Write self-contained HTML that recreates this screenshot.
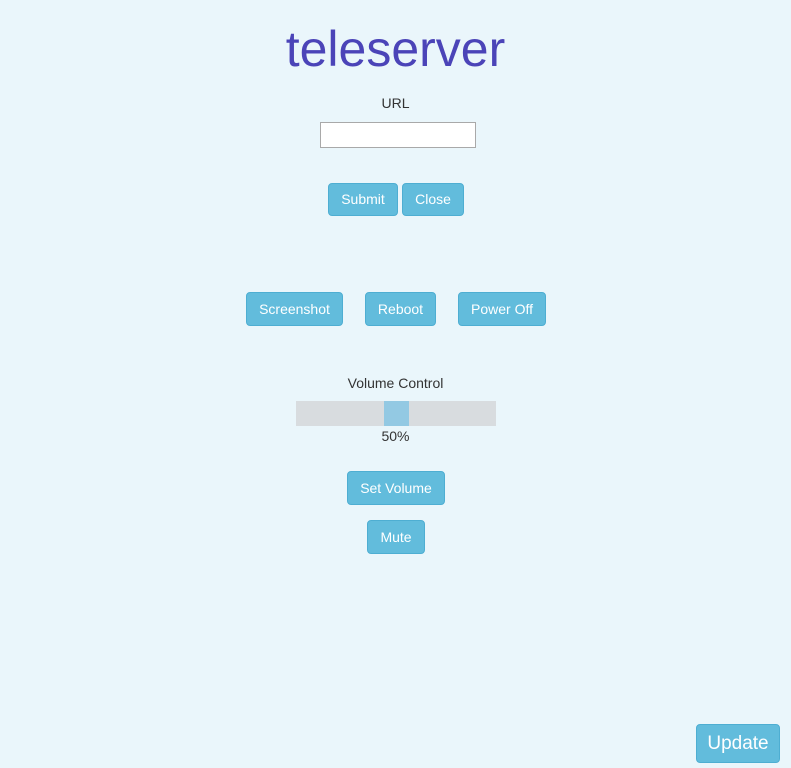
<!DOCTYPE html>
<html><head><meta charset="utf-8"><style>
html,body{margin:0;padding:0;width:791px;height:768px;background:#eaf6fb;overflow:hidden;font-family:"Liberation Sans",Arial,sans-serif;}
.a{position:absolute;}
.t{color:#4b44b8;font-size:50px;left:0;width:791px;text-align:center;top:20px;}
.l{color:#333;font-size:14px;text-align:center;}
.b{position:absolute;background:#62bcdc;border:1px solid #4eaed2;border-radius:4px;color:#fff;font-size:14px;text-align:center;box-sizing:border-box;}
</style></head><body>
<div class="a t">teleserver</div>
<div class="a l" style="left:0;width:791px;top:95px;">URL</div>
<div class="a" style="left:320px;top:122px;width:156px;height:26px;background:#fff;border:1px solid #a9a9a9;box-sizing:border-box;"></div>
<div class="b" style="left:328px;top:183px;width:70px;height:33px;line-height:31px;">Submit</div>
<div class="b" style="left:402px;top:183px;width:62px;height:33px;line-height:31px;">Close</div>
<div class="b" style="left:246px;top:292px;width:97px;height:34px;line-height:32px;">Screenshot</div>
<div class="b" style="left:365px;top:292px;width:71px;height:34px;line-height:32px;">Reboot</div>
<div class="b" style="left:458px;top:292px;width:88px;height:34px;line-height:32px;">Power Off</div>
<div class="a l" style="left:0;width:791px;top:375px;">Volume Control</div>
<div class="a" style="left:296px;top:401px;width:200px;height:25px;background:#d8dcdf;"></div>
<div class="a" style="left:384px;top:401px;width:25px;height:25px;background:#93c9e3;"></div>
<div class="a l" style="left:0;width:791px;top:428px;">50%</div>
<div class="b" style="left:347px;top:471px;width:98px;height:34px;line-height:32px;">Set Volume</div>
<div class="b" style="left:367px;top:520px;width:58px;height:34px;line-height:32px;">Mute</div>
<div class="b" style="left:696px;top:724px;width:84px;height:39px;line-height:37px;font-size:19px;">Update</div>
</body></html>
